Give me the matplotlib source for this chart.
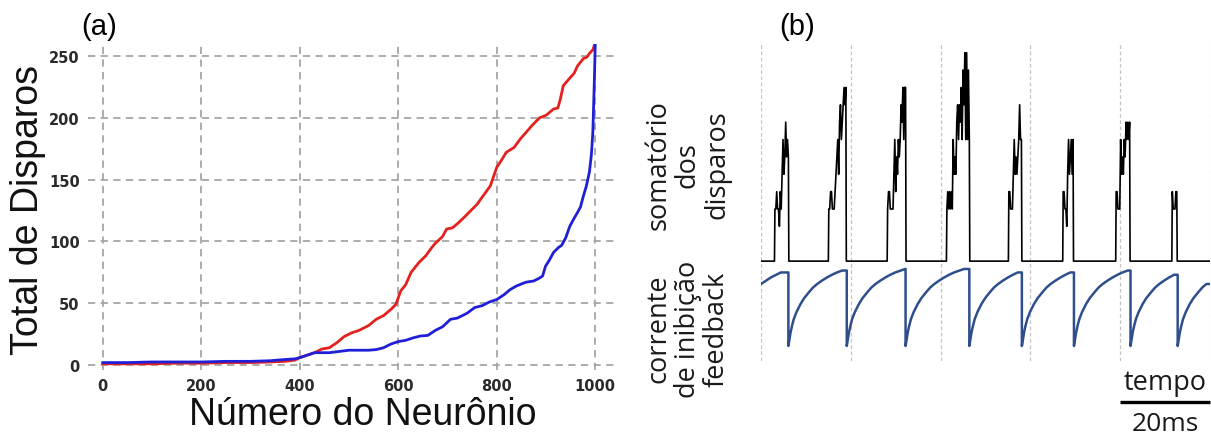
import matplotlib
matplotlib.use("Agg")
import matplotlib.pyplot as plt

# ---------------- Panel (a) data ----------------
red_x = [0, 50, 100, 150, 200, 250, 300, 340, 370, 390,
         400, 415, 430, 445, 460, 475, 490, 505, 520, 540,
         555, 570, 585, 595, 605, 615, 626, 642, 655, 666,
         674, 690, 698, 710, 722, 735, 750, 760, 767, 778,
         787, 793, 800, 810, 819, 827, 835, 848, 859, 872,
         887, 900, 915, 924, 929, 935, 948, 957, 964, 976,
         983, 988, 995, 1000]
red_y = [1, 1, 1, 1.5, 1.5, 2, 2, 2.5, 3, 4,
         6, 8, 10, 13, 14, 18, 23, 26, 28, 32,
         37, 40, 45, 49, 60, 65, 75, 83, 88, 94,
         98, 104, 110, 111, 115, 120, 126, 130, 134, 140,
         145, 152, 160, 166, 172, 174, 176, 183, 188, 194,
         200, 202, 207, 208, 215, 226, 232, 236, 242, 248,
         249, 252, 255, 261]

blue_x = [0, 50, 100, 150, 200, 250, 300, 340, 370, 390,
          400, 415, 430, 445, 460, 480, 500, 520, 540, 555,
          570, 585, 600, 615, 630, 645, 660, 675, 690, 706,
          720, 740, 755, 770, 785, 800, 815, 827, 840, 859,
          875, 885, 893, 899, 907, 915, 925, 932, 940, 948,
          956, 964, 970, 976, 982, 988, 992, 995, 998, 1000]
blue_y = [2, 2, 2.5, 2.5, 2.5, 3, 3, 3.5, 4.5, 5,
          6, 8, 10, 10, 10, 11, 12, 12, 12, 12.5,
          14, 17, 19, 20, 22, 23.5, 24, 28, 31, 37,
          38, 42, 46.5, 48, 51, 53, 57, 61, 64, 67,
          68, 70, 72, 80, 85, 91, 95, 97, 103, 112,
          118, 123.5, 128, 137, 145, 156, 170, 188, 229, 261]

x_ticks = [0, 200, 400, 600, 800, 1000]
y_ticks = [0, 50, 100, 150, 200, 250]

# ---------------- Panel (b) data ----------------
burst_start = [3.1, 15.1, 28.2, 41.4, 55.2, 67.3, 79.1, 91.6]   # ms
burst_counts = [
    [3, 3, 4, 3, 3, 2, 4, 3, 5, 7, 5, 6, 8, 6, 7, 6],
    [3, 3, 4, 4, 3, 3, 3, 4, 5, 6, 7, 5, 8, 9, 7, 8, 9, 10, 9, 10],
    [3, 4, 4, 3, 3, 3, 3, 5, 7, 4, 6, 5, 7, 6, 7, 9, 8, 10, 7, 10, 10],
    [3, 4, 3, 4, 3, 4, 3, 7, 5, 6, 5, 8, 9, 7, 9, 8, 10, 7, 11, 9, 12, 7, 12, 7, 11, 7],
    [4, 4, 3, 3, 3, 5, 7, 5, 6, 5, 6, 7, 9, 7, 7],
    [4, 4, 3, 3, 2, 5, 7, 5, 6, 7, 5, 7],
    [4, 4, 3, 3, 3, 7, 5, 6, 5, 7, 6, 8, 7, 8, 7, 8],
    [4, 3, 3, 3, 4, 4],
]
sample_dt = 0.2  # ms

inhib_drop = [6.1, 19.1, 32.2, 46.4, 58.1, 69.7, 82.3, 92.8]   # ms
inhib_init_t = [0, 2.2, 4.4]
inhib_init_v = [-0.195, -0.11, -0.045]
recov_dt = [0, 0.25, 0.5, 0.8, 1.2, 1.8, 2.7, 3.5, 4.6, 5.5, 6.4, 7.5,
            8.6, 9.7, 10.8, 12.0, 13.0, 14.5]
recov_v = [-1, -0.91, -0.82, -0.74, -0.65, -0.56, -0.455, -0.38, -0.30,
           -0.24, -0.195, -0.15, -0.11, -0.075, -0.045, -0.02, 0.0, 0.0]
t_end = 100.0
grid_times = [0, 20, 40, 60, 80, 100]

# ---------------- build traces ----------------
bt, bc = [0.0], [0.0]
for s, vals in zip(burst_start, burst_counts):
    bt.append(s - 0.1); bc.append(0)
    for i, v in enumerate(vals):
        bt.append(s + i * sample_dt); bc.append(v)
    bt.append(s + len(vals) * sample_dt - 0.1); bc.append(0)
bt.append(t_end); bc.append(0)

it, iv = list(inhib_init_t), list(inhib_init_v)
for k, td in enumerate(inhib_drop):
    nxt = inhib_drop[k + 1] if k + 1 < len(inhib_drop) else t_end
    it.append(td); iv.append(iv[-1])
    for dt, v in zip(recov_dt, recov_v):
        if td + dt < nxt:
            it.append(td + dt); iv.append(v)
    if k + 1 < len(inhib_drop):
        it.append(nxt); iv.append(iv[-1])
    else:
        it.append(nxt); iv.append(iv[-1])

# ---------------- figure ----------------
W, H = 1211, 439
fig = plt.figure(figsize=(W / 100, H / 100), dpi=100)

def fx(px):
    return px / W

def fy(py):
    return 1 - py / H

# Panel (a)
ax = fig.add_axes([fx(88), fy(371), fx(615) - fx(88), fy(44.6) - fy(371)])
ax.plot(red_x, red_y, color="#e3221f", lw=2.0, solid_joinstyle="round")
ax.plot(blue_x, blue_y, color="#1f1fd8", lw=2.0, solid_joinstyle="round")
ax.set_xlim(-30, 1040)
ax.set_ylim(-4, 260)
ax.set_xticks(x_ticks)
ax.set_yticks(y_ticks)
ax.grid(True, color="#a6a6a6", linestyle=(0, (4, 3)), linewidth=1.3)
for sp in ax.spines.values():
    sp.set_visible(False)
ax.tick_params(length=0, pad=6, labelsize=10.5, labelcolor="#2a2a2a")
for lab in ax.get_xticklabels() + ax.get_yticklabels():
    lab.set_fontweight("bold")
ax.set_axisbelow(True)

fig.text(fx(28), fy(210), "Total de Disparos", rotation=90, ha="center",
         va="center", fontsize=27, family="Liberation Sans", color="#111111")
fig.text(fx(363), fy(415), "Número do Neurônio", ha="center", va="center",
         fontsize=27, family="Liberation Sans", color="#111111")
fig.text(fx(99), fy(27), "(a)", ha="center", va="center", fontsize=21,
         family="Liberation Sans")
fig.text(fx(797), fy(27), "(b)", ha="center", va="center", fontsize=21,
         family="Liberation Sans")

# Panel (b)
pos_b = [fx(761), fy(362), fx(1210) - fx(761), fy(45) - fy(362)]
axb = fig.add_axes(pos_b)
axb.set_xlim(0, t_end)
axb.set_ylim(-5.75, 12.5)
for g in grid_times:
    axb.axvline(g, color="#c4c4c4", lw=0.9, linestyle=(0, (3, 2)))
axb.plot(bt, bc, color="black", lw=1.2)
axb.axis("off")
# scale bar 20 ms
axb.plot([80, 100], [-8.1, -8.1], color="black", lw=2.4, clip_on=False,
         solid_capstyle="butt")
axb.text(90, -7.75, "tempo", ha="center", va="bottom", fontsize=19.5,
         family="Open Sans", color="#1a1a1a")
axb.text(90, -8.6, "20ms", ha="center", va="top", fontsize=19,
         family="Open Sans", color="#1a1a1a")

axc = fig.add_axes(pos_b)
axc.patch.set_alpha(0)
axc.set_xlim(0, t_end)
axc.set_ylim(-1.195, 2.922)
axc.plot(it, iv, color="#2f4f8c", lw=1.8)
axc.axis("off")

fig.text(fx(688), fy(165), "somatório\ndos\ndisparos", rotation=90,
         ha="center", va="center", fontsize=19.5, family="Open Sans",
         linespacing=1.05, multialignment="center", color="#1a1a1a")
fig.text(fx(688), fy(329), "corrente\nde inibição\nfeedback", rotation=90,
         ha="center", va="center", fontsize=19.5, family="Open Sans",
         linespacing=1.05, multialignment="center", color="#1a1a1a")

fig.savefig("out.png", dpi=100)
